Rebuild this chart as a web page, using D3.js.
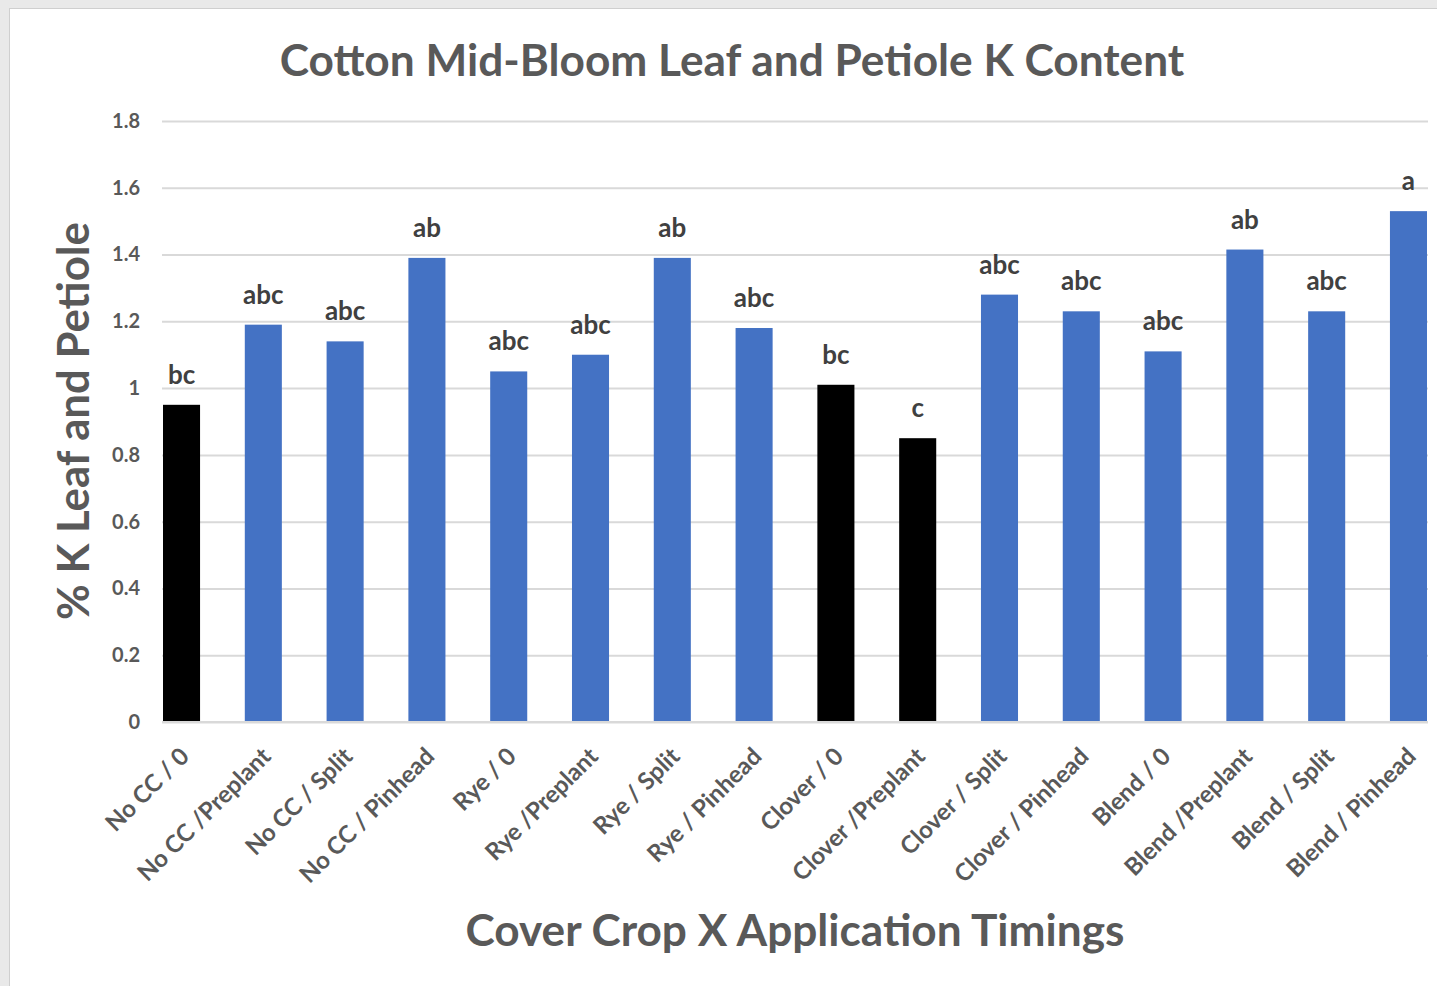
<!DOCTYPE html>
<meta charset="utf-8">
<script src="https://d3js.org/d3.v7.min.js"></script>
<style>
  body { margin: 0; background: #e9e9e9; }
  text { font-family: Lato, "Open Sans", sans-serif; font-weight: bold; }
</style>
<body>
<div id="my_dataviz"></div>
<script>

// categories, values and significance letters
var categories = ["No CC / 0", "No CC /Preplant", "No CC / Split", "No CC / Pinhead",
                  "Rye / 0", "Rye /Preplant", "Rye / Split", "Rye / Pinhead",
                  "Clover / 0", "Clover /Preplant", "Clover / Split", "Clover / Pinhead",
                  "Blend / 0", "Blend /Preplant", "Blend / Split", "Blend / Pinhead"]
var values = [0.95, 1.19, 1.14, 1.39, 1.05, 1.10, 1.39, 1.18,
              1.01, 0.85, 1.28, 1.23, 1.11, 1.415, 1.23, 1.53]
var letters = ["bc", "abc", "abc", "ab", "abc", "abc", "ab", "abc",
               "bc", "c", "abc", "abc", "abc", "ab", "abc", "a"]
var yTicks = [0, 0.2, 0.4, 0.6, 0.8, 1, 1.2, 1.4, 1.6, 1.8]
var blackBars = ["No CC / 0", "Clover / 0", "Clover /Preplant"]

var width = 1437
    height = 986

var svg = d3.select("#my_dataviz")
  .append("svg")
    .attr("width", width)
    .attr("height", height)
    .style("display", "block")

// white chart panel on the grey page
svg.append("rect")
  .attr("x", 9.5).attr("y", 8.5)
  .attr("width", width).attr("height", height)
  .attr("fill", "white")
  .attr("stroke", "#cfcfcf")

var x = d3.scaleBand()
  .domain(categories)
  .range([163, 1427])
  .paddingInner(0.547)
  .paddingOuter(0)

var y = d3.scaleLinear()
  .domain([0, 1.8])
  .range([722, 121])

// gridlines + y labels
var yAxis = svg.append("g")
  .attr("transform", "translate(162,0)")
  .call(d3.axisLeft(y).tickValues(yTicks).tickSize(-1266).tickPadding(22).tickFormat(d3.format("")))
yAxis.select(".domain").remove()
yAxis.selectAll("line").attr("stroke", "#d9d9d9").attr("stroke-width", 2)
yAxis.selectAll("text")
  .attr("fill", "#595959")
  .style("font-size", "20px")
  .style("font-family", "Lato, sans-serif")
  .style("font-weight", "bold")

// bars
svg.selectAll(".bar")
  .data(values)
  .enter()
  .append("rect")
    .attr("class", "bar")
    .attr("x", function(d, i) { return x(categories[i]) })
    .attr("width", x.bandwidth())
    .attr("y", function(d) { return y(d) })
    .attr("height", function(d) { return y(0) - y(d) })
    .attr("fill", function(d, i) { return blackBars.indexOf(categories[i]) >= 0 ? "#000000" : "#4472C4" })

// letters over the bars
svg.selectAll(".lab")
  .data(values)
  .enter()
  .append("text")
    .attr("class", "lab")
    .attr("x", function(d, i) { return x(categories[i]) + x.bandwidth() / 2 })
    .attr("y", function(d) { return y(d) - 21 })
    .attr("text-anchor", "middle")
    .attr("fill", "#404040")
    .style("font-size", "26px")
    .text(function(d, i) { return letters[i] })

// x axis
var xAxis = svg.append("g")
  .attr("transform", "translate(0,722)")
  .call(d3.axisBottom(x).tickSize(0).tickPadding(0))
xAxis.select(".domain").attr("stroke", "#d9d9d9").attr("stroke-width", 2)
  .attr("d", "M162,0H1428")
xAxis.selectAll("text")
  .attr("fill", "#595959")
  .style("font-size", "24px")
  .style("font-family", "Lato, sans-serif")
  .style("font-weight", "bold")
  .attr("text-anchor", "end")
  .attr("transform", "translate(3,30) rotate(-45)")
  .attr("dy", "0.35em")
  .attr("y", 0)

// titles
function fit(sel, target) {
  var w = sel.node().getComputedTextLength()
  var fs = parseFloat(sel.style("font-size"))
  sel.style("font-size", (fs * target / w) + "px")
}

var title = svg.append("text")
  .attr("x", 732).attr("y", 76)
  .attr("text-anchor", "middle")
  .attr("fill", "#595959")
  .style("font-size", "40px")
  .text("Cotton Mid-Bloom Leaf and Petiole K Content")
fit(title, 905)

var xt = svg.append("text")
  .attr("x", 795).attr("y", 946)
  .attr("text-anchor", "middle")
  .attr("fill", "#595959")
  .style("font-size", "40px")
  .text("Cover Crop X Application Timings")
fit(xt, 659)

var yt = svg.append("text")
  .attr("transform", "translate(89,421) rotate(-90)")
  .attr("text-anchor", "middle")
  .attr("fill", "#595959")
  .style("font-size", "38px")
  .text("% K Leaf and Petiole")
fit(yt, 398)

</script>
</body>
